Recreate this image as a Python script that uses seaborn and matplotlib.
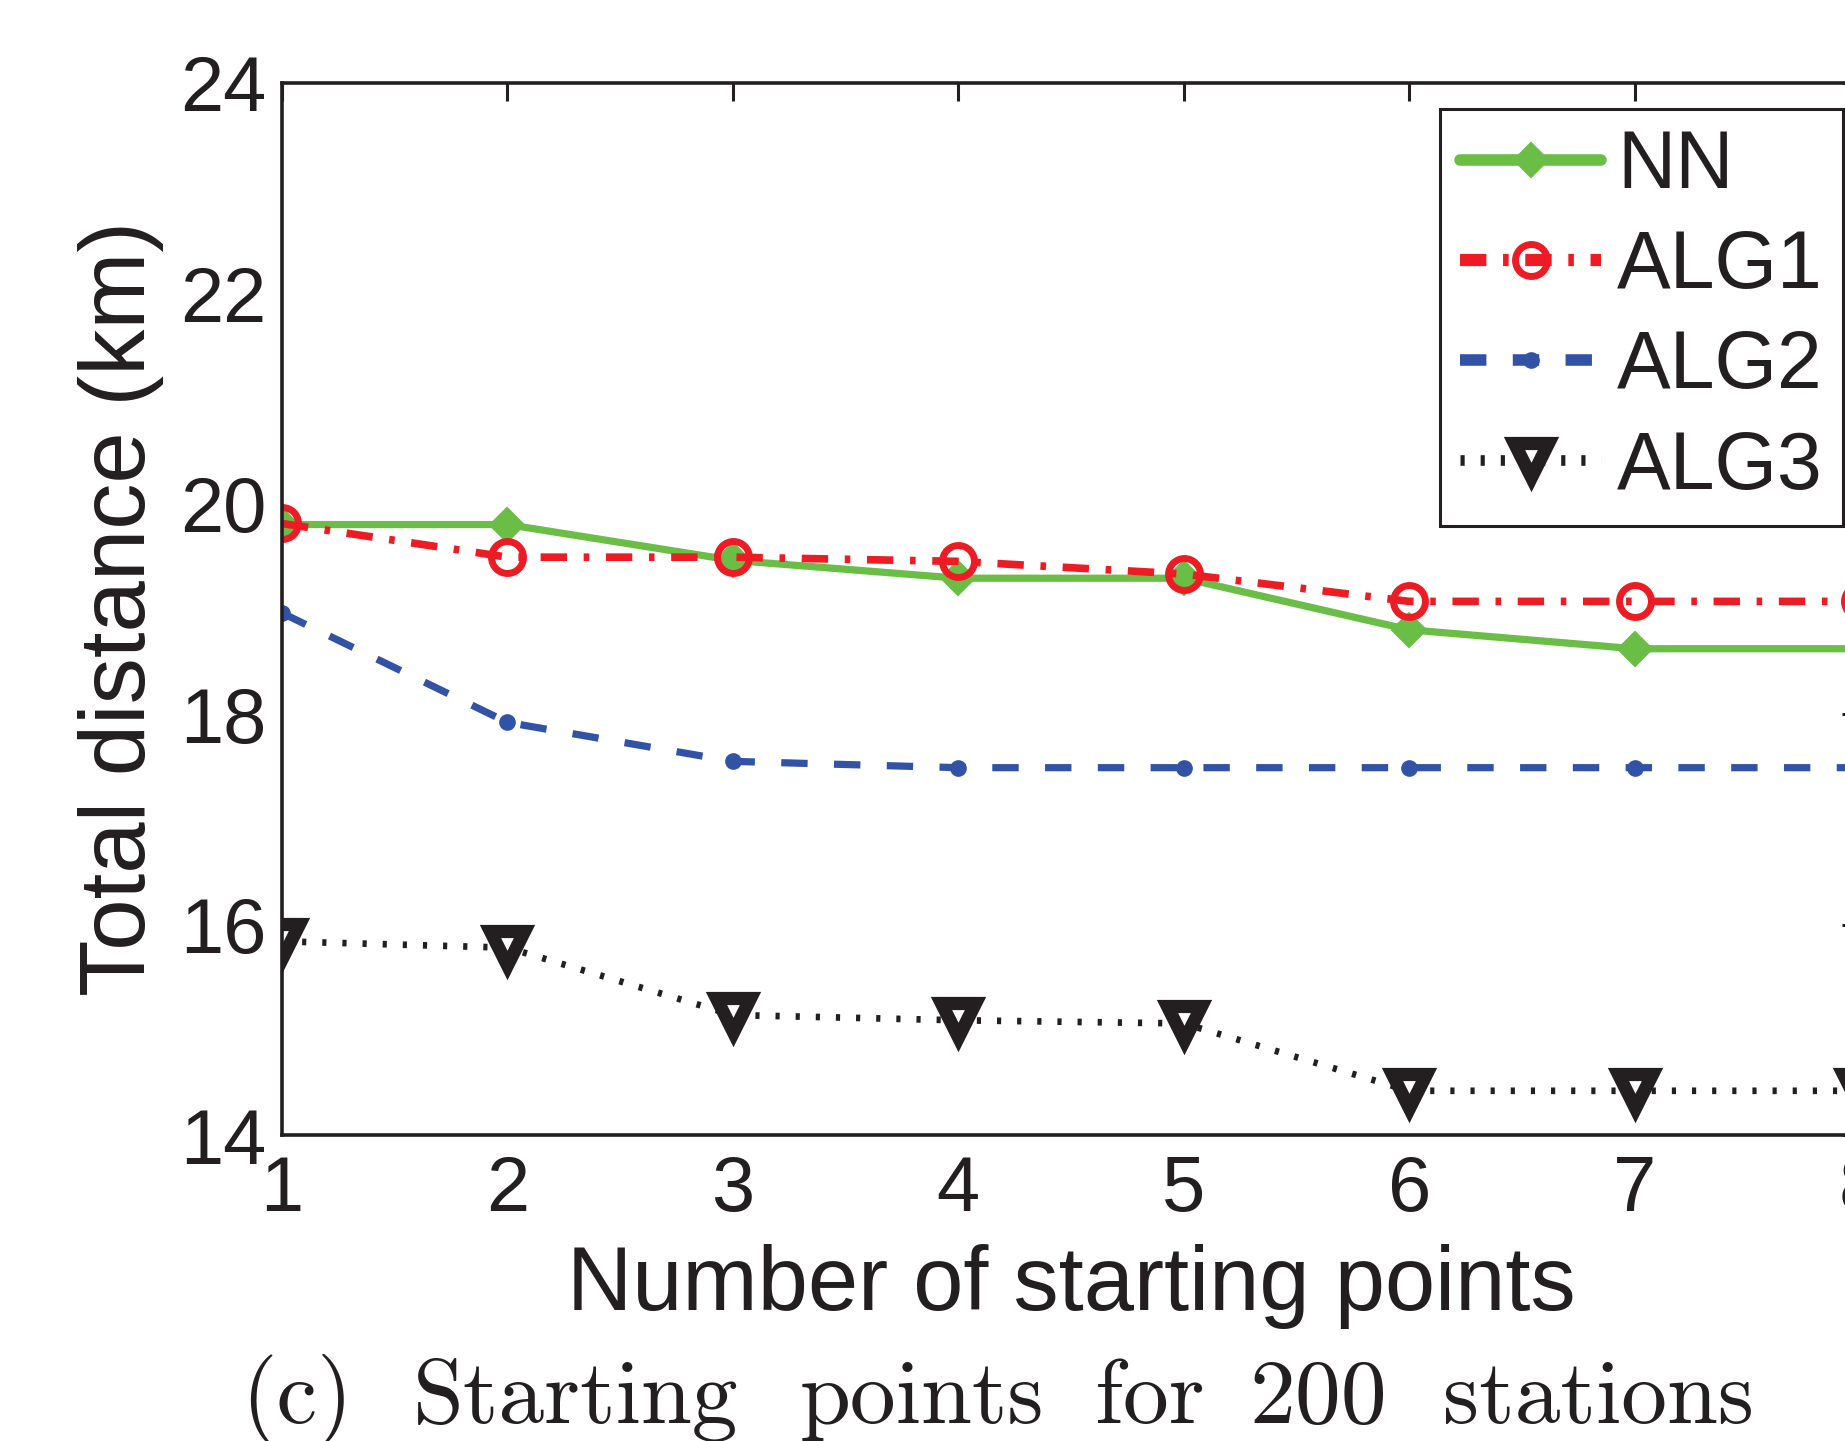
import numpy as np
import pandas as pd
import matplotlib
matplotlib.use("Agg")
import matplotlib.pyplot as plt
from matplotlib.lines import Line2D
import seaborn as sns

# ── data ──────────────────────────────────────────────────────
starting_points = [1, 2, 3, 4, 5, 6, 7, 8]
nn = [19.8, 19.8, 19.46, 19.29, 19.29, 18.8, 18.62, 18.62]
alg1 = [19.81, 19.49, 19.49, 19.45, 19.33, 19.07, 19.07, 19.07]
alg2 = [18.96, 17.92, 17.55, 17.49, 17.49, 17.49, 17.49, 17.49]
alg3 = [15.84, 15.78, 15.14, 15.09, 15.06, 14.42, 14.42, 14.42]
y_ticks = [14, 16, 18, 20, 22, 24]
caption_words = ["(c)", "Starting", "points", "for", "200", "stations"]
caption_center_px = [297, 576, 922, 1150, 1318, 1598]

# ── style ────────────────────────────────────────────────────
sns.set_theme(style="white")
plt.rcParams["font.family"] = ["Liberation Sans", "DejaVu Sans"]
plt.rcParams["lines.scale_dashes"] = False
INK = "#231F20"
COLORS = {"NN": "#6ABD45", "ALG1": "#ED1C24", "ALG2": "#3253A5", "ALG3": INK}

series = [
    ("NN", nn, dict(linestyle="-", linewidth=5.2, marker="D", markersize=17,
                    markerfacecolor=COLORS["NN"], markeredgecolor=COLORS["NN"],
                    markeredgewidth=1.5)),
    ("ALG1", alg1, dict(linestyle=(0, (19, 12, 4, 12)), linewidth=5.5, marker="o",
                        markersize=23, markerfacecolor="none",
                        markeredgecolor=COLORS["ALG1"], markeredgewidth=5)),
    ("ALG2", alg2, dict(linestyle=(0, (19, 19)), linewidth=5.2, marker="o",
                        markersize=11, markerfacecolor=COLORS["ALG2"],
                        markeredgecolor=COLORS["ALG2"], markeredgewidth=1)),
    ("ALG3", alg3, dict(linestyle=(0, (3, 11.5)), linewidth=4.8, marker="v",
                        markersize=25, markerfacecolor="white",
                        markeredgecolor=INK, markeredgewidth=9.5)),
]

fig = plt.figure(figsize=(18.45, 14.41), dpi=100)
# axes deliberately runs past the right edge, as in the cropped original
ax = fig.add_axes([282 / 1845, 1 - 1135 / 1441, 1578 / 1845, 1052.5 / 1441])

for name, vals, kw in series:
    df = pd.DataFrame({"x": starting_points, "y": vals})
    sns.lineplot(data=df, x="x", y="y", color=COLORS[name], ax=ax,
                 legend=False, **kw)

ax.set_xlim(1, 8)
ax.set_ylim(14, 24)
ax.set_xticks(starting_points)
ax.set_yticks(y_ticks)
ax.tick_params(direction="in", top=True, right=True, length=13, width=2.2,
               color=INK, labelsize=56, labelcolor=INK, pad=11)
ax.tick_params(axis="x", pad=14)
for sp in ax.spines.values():
    sp.set_color(INK)
    sp.set_linewidth(2.6)

ax.set_xlabel("Number of starting points", fontsize=65, color=INK, labelpad=12)
ax.set_ylabel("Total distance (km)", fontsize=66.5, color=INK, labelpad=12)

# legend (handles drawn a bit heavier, like the original)
handles = []
for name, vals, kw in series:
    hk = dict(kw)
    hk["linewidth"] = kw["linewidth"] * 1.6
    handles.append(Line2D([], [], color=COLORS[name], **hk))
leg = fig.legend(handles, [s[0] for s in series], loc="upper right",
                 bbox_to_anchor=(1843 / 1845, 1 - 109 / 1441),
                 bbox_transform=fig.transFigure, fontsize=58, frameon=True,
                 fancybox=False, framealpha=1, edgecolor=INK,
                 handlelength=1.75, handletextpad=0.2, labelspacing=0.3,
                 borderpad=0.25, borderaxespad=0)
leg.get_frame().set_linewidth(2.2)
for t in leg.get_texts():
    t.set_color(INK)

# sub-caption in Computer Modern, word by word as spaced in the original
for word, xc in zip(caption_words, caption_center_px):
    fig.text(xc / 1845, 1 - 1423 / 1441, word, fontsize=66, family="cmr10",
             color=INK, ha="center", va="baseline")

fig.savefig("out.png", dpi=100)
